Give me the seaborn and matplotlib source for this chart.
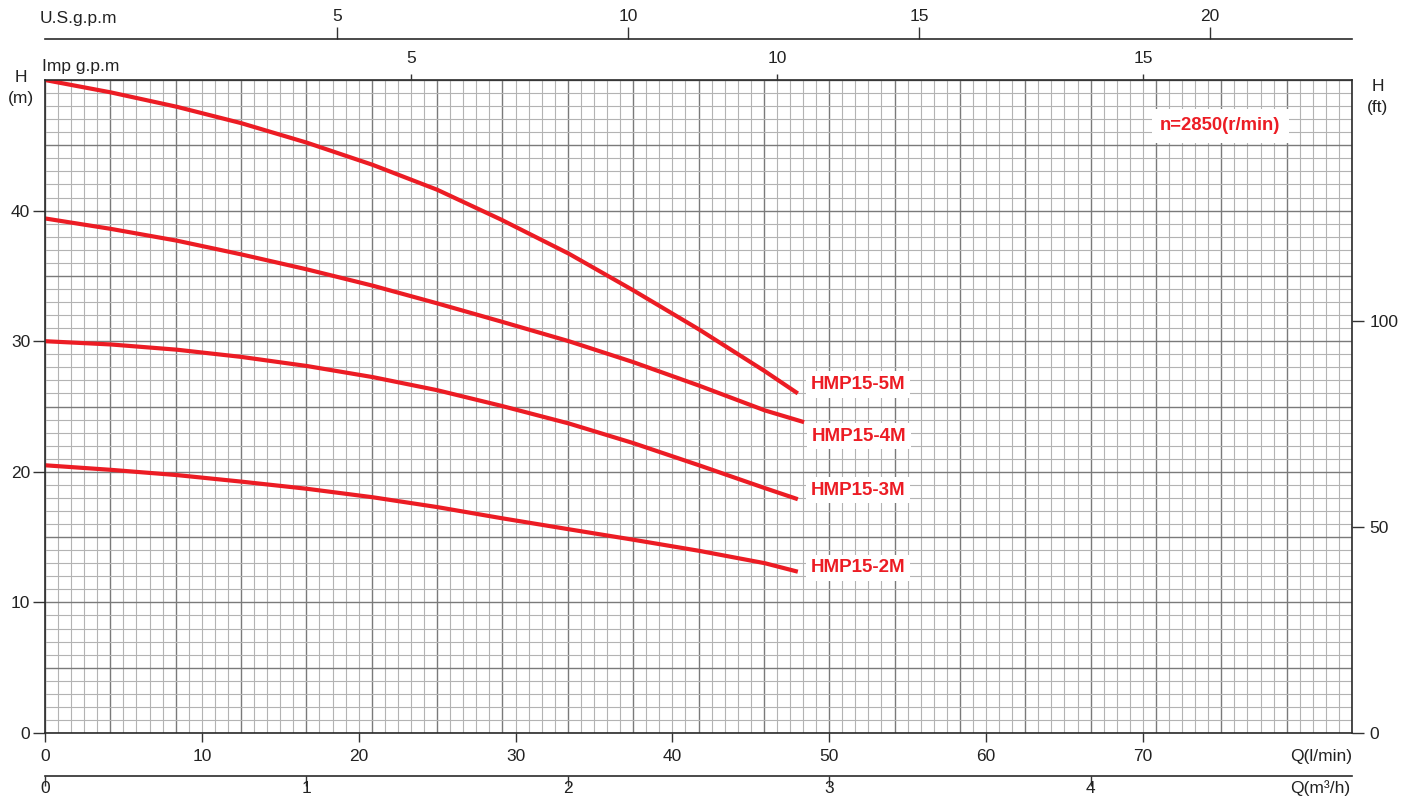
import numpy as np
import pandas as pd
import matplotlib
matplotlib.use("Agg")
import matplotlib.pyplot as plt
import seaborn as sns

# ---------------- data ----------------
models = ["HMP15-5M", "HMP15-4M", "HMP15-3M", "HMP15-2M"]
q_5m = [0, 4.2, 8.4, 12.5, 16.7, 20.9, 25.0, 29.1, 33.4, 37.5, 41.7, 45.9, 48.0]
h_5m = [50.0, 49.05, 47.95, 46.7, 45.2, 43.5, 41.6, 39.3, 36.7, 33.9, 30.9, 27.7, 26.0]
q_4m = [0, 4.2, 8.4, 12.5, 16.7, 20.9, 25.0, 29.1, 33.4, 37.5, 41.7, 45.9, 48.4]
h_4m = [39.4, 38.6, 37.7, 36.65, 35.5, 34.25, 32.9, 31.5, 30.0, 28.4, 26.6, 24.7, 23.8]
q_3m = [0, 4.2, 8.4, 12.5, 16.7, 20.9, 25.0, 29.1, 33.4, 37.5, 41.7, 45.9, 48.0]
h_3m = [30.0, 29.75, 29.35, 28.8, 28.1, 27.25, 26.25, 25.05, 23.7, 22.2, 20.5, 18.75, 17.9]
q_2m = [0, 4.2, 8.4, 12.5, 16.7, 20.9, 25.0, 29.1, 33.4, 37.5, 41.7, 45.9, 48.0]
h_2m = [20.5, 20.15, 19.75, 19.25, 18.7, 18.05, 17.3, 16.45, 15.6, 14.8, 13.95, 13.0, 12.35]

speed_label = "n=2850(r/min)"
q_lmin_ticks = [0, 10, 20, 30, 40, 50, 60, 70]
q_m3h_ticks = [0, 1, 2, 3, 4]
h_m_ticks = [0, 10, 20, 30, 40]
h_ft_ticks = [0, 50, 100]
imp_ticks = [5, 10, 15]
us_ticks = [5, 10, 15, 20]

# ---------------- styling ----------------
sns.set_theme(style="white")
plt.rcParams['font.family'] = ['Liberation Sans', 'DejaVu Sans']
RED = "#ec1c24"
TXT = "#222222"
FS = 12.5

W, H = 1418, 801
def fx(px): return px / W
def fy(py): return 1 - py / H
L, R, T, B = 45, 1352, 80, 733

fig = plt.figure(figsize=(W / 100, H / 100), dpi=100)
ax = fig.add_axes([fx(L), fy(B), fx(R) - fx(L), fy(T) - fy(B)])

QMAX = 250 / 3  # 5 m3/h in l/min
HMAX = 50
ax.set_xlim(0, QMAX)
ax.set_ylim(0, HMAX)

# grid: 0.05 m3/h cells in x, 1 m cells in y, darker every 5 cells
xs = np.linspace(0, QMAX, 101)
ys = np.arange(0, HMAX + 1, 1)
for i, x in enumerate(xs):
    major = (i % 5 == 0)
    ax.axvline(x, color="#7a7a7a" if major else "#b3b3b3", lw=1.0 if major else 0.8, zorder=0)
for j, y in enumerate(ys):
    major = (j % 5 == 0)
    ax.axhline(y, color="#7a7a7a" if major else "#b3b3b3", lw=1.0 if major else 0.8, zorder=0)

# curves
frames = []
for m, q, h in zip(models, [q_5m, q_4m, q_3m, q_2m], [h_5m, h_4m, h_3m, h_2m]):
    frames.append(pd.DataFrame({"Q": q, "H": h, "model": m}))
df = pd.concat(frames, ignore_index=True)
sns.lineplot(data=df, x="Q", y="H", hue="model", palette=[RED] * 4, lw=3.0,
             legend=False, ax=ax, sort=False, estimator=None, zorder=3)
for line in ax.get_lines():
    line.set_solid_capstyle("butt")
    line.set_solid_joinstyle("round")

# curve labels (offset from the curve end, in pixels)
label_offsets_px = [(13, 9), (8, -14), (13, 9), (13, 4)]
for (m, fr), (dx, dy) in zip(zip(models, frames), label_offsets_px):
    ax.annotate(m, xy=(fr["Q"].iloc[-1], fr["H"].iloc[-1]), xytext=(dx * 0.72, dy * 0.72),
                textcoords="offset points", ha="left", va="center", color=RED,
                fontsize=13.5, fontweight="bold", zorder=5,
                bbox=dict(boxstyle="square,pad=0.25", fc="white", ec="none"))

ax.text((1220 - L) / (R - L), (B - 126) / (B - T), speed_label, transform=ax.transAxes,
        ha="center", va="center", color=RED, fontsize=13.3, fontweight="bold", zorder=5,
        bbox=dict(boxstyle="square,pad=0.45", fc="white", ec="none"))

# main axes ticks
ax.set_xticks(q_lmin_ticks)
ax.set_yticks(h_m_ticks)
ax.set_xlabel("")
ax.set_ylabel("")
ax.tick_params(axis="x", direction="out", length=6.2, width=1, color="#333333",
               labelsize=FS, labelcolor=TXT, pad=5, bottom=True)
ax.tick_params(axis="y", direction="out", length=8.6, width=1, color="#333333",
               labelsize=FS, labelcolor=TXT, pad=2, left=True)
for s in ax.spines.values():
    s.set_color("#2a2a2a")
    s.set_linewidth(1.2)
    s.set_zorder(4)

# right axis in ft
axr = ax.twinx()
axr.set_ylim(0, HMAX * (B - T) / 206)
axr.set_yticks(h_ft_ticks)
axr.tick_params(axis="y", direction="out", length=8.6, width=1, color="#333333",
                labelsize=FS, labelcolor=TXT, pad=4, right=True)
axr.grid(False)
for s in axr.spines.values():
    s.set_visible(False)

# top: Imp g.p.m
axi = ax.twiny()
axi.set_xlim(0, (R - L) / 73.2)
axi.set_xticks(imp_ticks)
axi.tick_params(axis="x", direction="out", length=4.3, width=1, color="#333333",
                labelsize=FS, labelcolor=TXT, pad=6, top=True)
axi.grid(False)
for s in axi.spines.values():
    s.set_visible(False)

# top line: U.S.g.p.m
ax_us = fig.add_axes([fx(L), fy(39), fx(R) - fx(L), 1e-5])
ax_us.set_xlim(-(46 - L) / 58.2, (R - 46) / 58.2)
ax_us.set_xticks(us_ticks)
ax_us.set_yticks([])
ax_us.xaxis.tick_top()
ax_us.tick_params(axis="x", direction="out", length=8.6, width=1, color="#333333",
                  labelsize=FS, labelcolor=TXT, pad=2.5)
ax_us.patch.set_visible(False)
for k, s in ax_us.spines.items():
    s.set_visible(k == "top")
    s.set_color("#2a2a2a")
    s.set_linewidth(1.2)

# bottom line: m3/h
ax_m3 = fig.add_axes([fx(L), fy(775.7), fx(R) - fx(L), 1e-5])
ax_m3.set_xlim(0, 5)
ax_m3.set_xticks(q_m3h_ticks)
ax_m3.set_yticks([])
ax_m3.tick_params(axis="x", direction="out", length=7, width=1, color="#333333",
                  labelsize=FS, labelcolor=TXT, pad=-3, bottom=True)
ax_m3.patch.set_visible(False)
for k, s in ax_m3.spines.items():
    s.set_visible(k == "bottom")
    s.set_color("#2a2a2a")
    s.set_linewidth(1.2)

# axis titles
fig.text(fx(40), fy(18), "U.S.g.p.m", ha="left", va="center", fontsize=FS, color=TXT)
fig.text(fx(42), fy(66), "Imp g.p.m", ha="left", va="center", fontsize=FS, color=TXT)
fig.text(fx(21), fy(88), "H\n(m)", ha="center", va="center", fontsize=FS, color=TXT, linespacing=1.45)
fig.text(fx(1378), fy(97), "H\n(ft)", ha="center", va="center", fontsize=FS, color=TXT, linespacing=1.45)
fig.text(fx(R), fy(757), "Q(l/min)", ha="right", va="center", fontsize=FS, color=TXT)
fig.text(fx(R - 2), fy(788), "Q(m\u00b3/h)", ha="right", va="center", fontsize=FS, color=TXT)

fig.savefig("out.png", dpi=100, facecolor="white")
